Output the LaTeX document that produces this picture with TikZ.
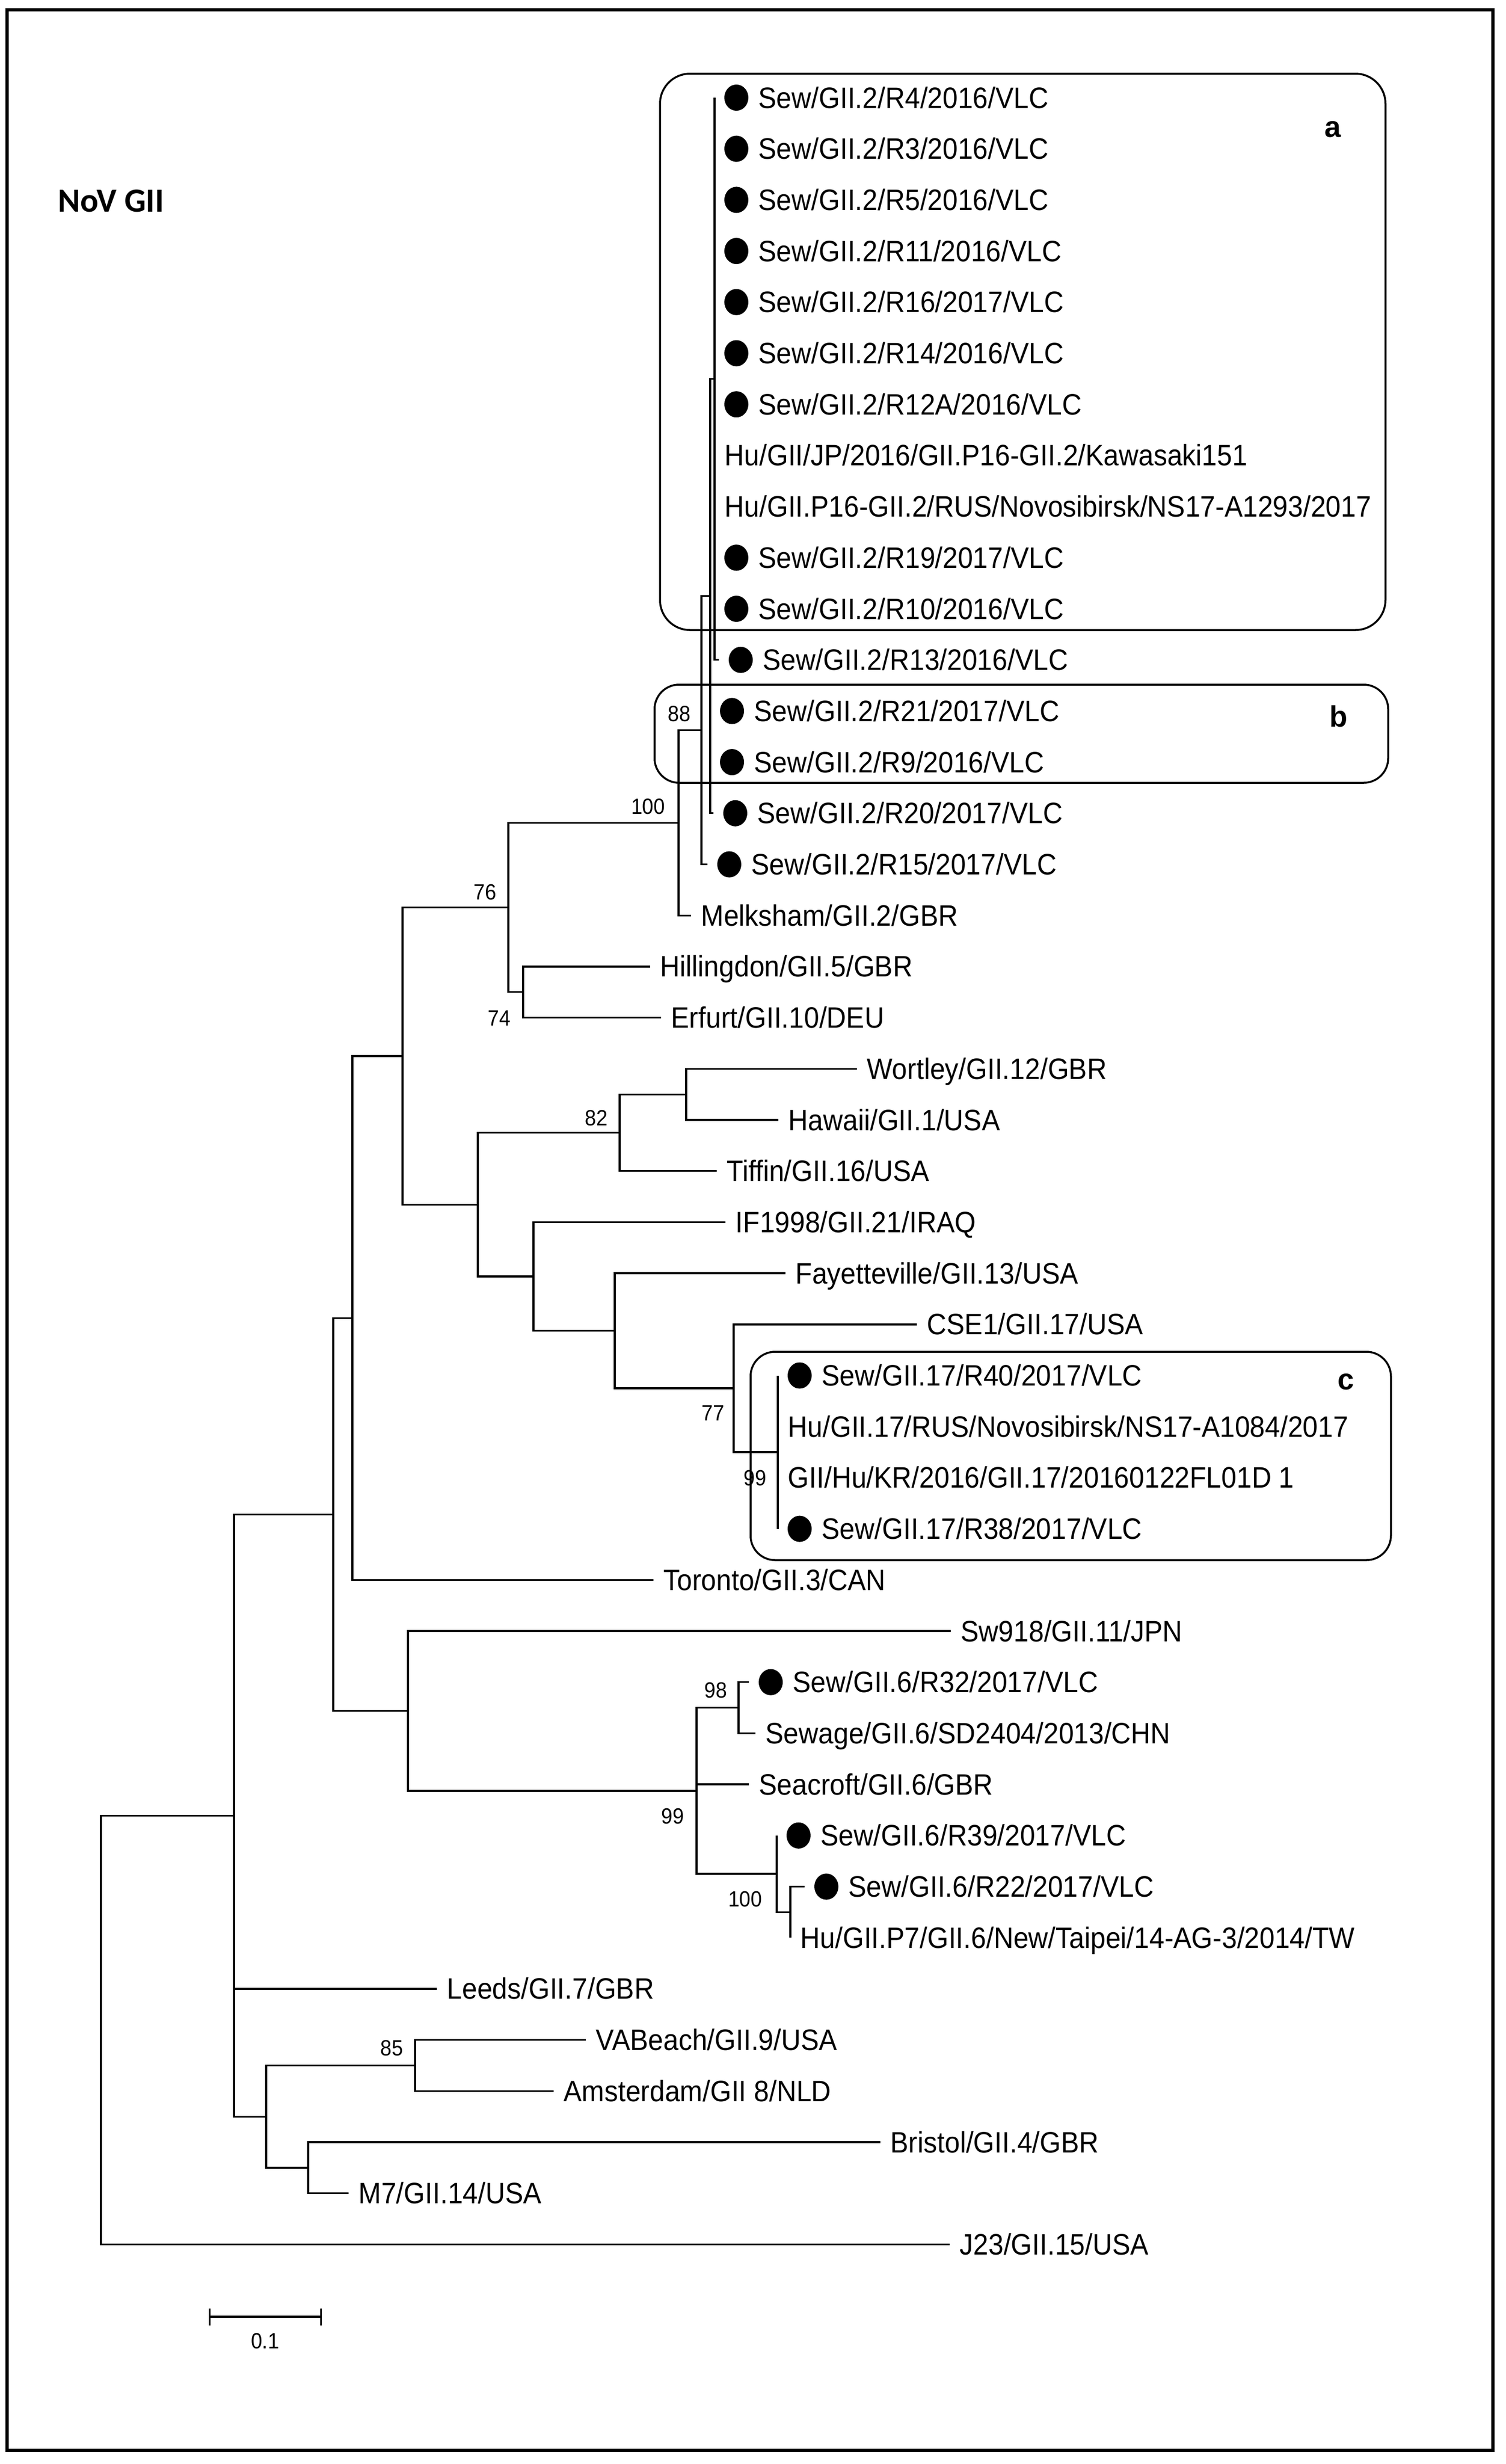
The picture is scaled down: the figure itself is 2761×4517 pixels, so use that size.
\documentclass[tikz,border=0pt]{standalone}
\usepackage{fontspec}
\setmainfont{Liberation Sans}[FakeStretch=0.92]
\newfontfamily\titlefont{Carlito}
\newfontfamily\cladefont{Liberation Sans}
\usetikzlibrary{positioning,calc,shapes.geometric,arrows.meta}

\tikzset{
  branch/.style={line width=0.95pt},
  leaf/.style={anchor=base west, inner sep=0pt, font=\fontsize{15.4}{18}\selectfont},
  boot/.style={inner sep=0pt, font=\fontsize{11.5}{13}\selectfont},
  sewdot/.style={ellipse, fill=black, inner sep=0pt, minimum width=0.44cm, minimum height=0.48cm},
  clade/.style={line width=1pt, rounded corners=#1},
  clade/.default=0.5cm,
  cladetag/.style={anchor=base west, inner sep=0pt, font=\cladefont\bfseries\fontsize{15.4}{18}\selectfont},
}

\begin{document}
\begin{tikzpicture}[x=0.01cm, y=-0.01cm]
 \path[fill=white] (0,0) rectangle (2761,4517);
 \draw[line width=1.7pt] (13,18) rectangle (2737,4492);
 \node[anchor=base west, inner sep=0pt, font=\titlefont\bfseries\fontsize{17.6}{20}\selectfont] (title) at (106,388) {NoV GII};
 %
 % leaves: row / end of branch / sewage dot / label
 \foreach \i/\x/\hasdot/\txt in {
   1/1310/1/{Sew/GII.2/R4/2016/VLC},
   2/1310/1/{Sew/GII.2/R3/2016/VLC},
   3/1310/1/{Sew/GII.2/R5/2016/VLC},
   4/1310/1/{Sew/GII.2/R11/2016/VLC},
   5/1310/1/{Sew/GII.2/R16/2017/VLC},
   6/1310/1/{Sew/GII.2/R14/2016/VLC},
   7/1310/1/{Sew/GII.2/R12A/2016/VLC},
   8/1310/0/{Hu/GII/JP/2016/GII.P16-GII.2/Kawasaki151},
   9/1310/0/{Hu/GII.P16-GII.2/RUS/Novosibirsk/NS17-A1293/2017},
   10/1310/1/{Sew/GII.2/R19/2017/VLC},
   11/1310/1/{Sew/GII.2/R10/2016/VLC},
   12/1318/1/{Sew/GII.2/R13/2016/VLC},
   13/1302/1/{Sew/GII.2/R21/2017/VLC},
   14/1302/1/{Sew/GII.2/R9/2016/VLC},
   15/1308/1/{Sew/GII.2/R20/2017/VLC},
   16/1297/1/{Sew/GII.2/R15/2017/VLC},
   17/1267/0/{Melksham/GII.2/GBR},
   18/1192/0/{Hillingdon/GII.5/GBR},
   19/1212/0/{Erfurt/GII.10/DEU},
   20/1571/0/{Wortley/GII.12/GBR},
   21/1427/0/{Hawaii/GII.1/USA},
   22/1314/0/{Tiffin/GII.16/USA},
   23/1330/0/{IF1998/GII.21/IRAQ},
   24/1440/0/{Fayetteville/GII.13/USA},
   25/1681/0/{CSE1/GII.17/USA},
   26/1426/1/{Sew/GII.17/R40/2017/VLC},
   27/1426/0/{Hu/GII.17/RUS/Novosibirsk/NS17-A1084/2017},
   28/1426/0/{GII/Hu/KR/2016/GII.17/20160122FL01D 1},
   29/1426/1/{Sew/GII.17/R38/2017/VLC},
   30/1198/0/{Toronto/GII.3/CAN},
   31/1743/0/{Sw918/GII.11/JPN},
   32/1373/1/{Sew/GII.6/R32/2017/VLC},
   33/1385/0/{Sewage/GII.6/SD2404/2013/CHN},
   34/1373/0/{Seacroft/GII.6/GBR},
   35/1424/1/{Sew/GII.6/R39/2017/VLC},
   36/1475/1/{Sew/GII.6/R22/2017/VLC},
   37/1449/0/{Hu/GII.P7/GII.6/New/Taipei/14-AG-3/2014/TW},
   38/801/0/{Leeds/GII.7/GBR},
   39/1074/0/{VABeach/GII.9/USA},
   40/1015/0/{Amsterdam/GII 8/NLD},
   41/1614/0/{Bristol/GII.4/GBR},
   42/639/0/{M7/GII.14/USA},
   43/1741/0/{J23/GII.15/USA}}{
   \pgfmathsetmacro\y{179+(\i-1)*93.7}
   \coordinate (e\i) at (\x,\y);
   \ifnum\hasdot=1
     \node[sewdot] (d\i) at ($(e\i)+(40,0)$) {};
     \node[leaf] (t\i) at ($(e\i)+(80,19)$) {\txt};
   \else
     \node[leaf] (t\i) at ($(e\i)+(18,19)$) {\txt};
   \fi
 }
 %
 % internal nodes
 \coordinate (nY) at (1310,694.4);
 \coordinate (nX) at (1302,1092.6);
 \coordinate (n88) at (1286,1338.6);
 \coordinate (n100) at (1244,1508.4);
 \coordinate (n74) at (959,1818.8);
 \coordinate (n76) at (932,1663.6);
 \coordinate (nW) at (1258,2006.2);
 \coordinate (n82) at (1136,2076.5);
 \coordinate (n99c) at (1426,2662.1);
 \coordinate (n77) at (1345,2545);
 \coordinate (nJ) at (1127,2439.6);
 \coordinate (nI) at (978,2340);
 \coordinate (nG) at (876,2208.3);
 \coordinate (nF) at (738,1936);
 \coordinate (nD) at (646,2416.2);
 \coordinate (n98) at (1354,3130.6);
 \coordinate (nZ) at (1449,3505.4);
 \coordinate (n100b) at (1424,3435.1);
 \coordinate (n99b) at (1277,3282.9);
 \coordinate (nE) at (748,3136.5);
 \coordinate (nC) at (611,2776.4);
 \coordinate (n85) at (761,3786.5);
 \coordinate (nBM) at (565,3973.9);
 \coordinate (nVM) at (488,3880.2);
 \coordinate (nB) at (429,3328.3);
 \coordinate (root) at (185,3721.4);
 %
 \foreach \k in {1,...,12} \draw[branch] (nY) |- (e\k);
 \foreach \k in {13,14,15} \draw[branch] (nX) |- (e\k);
 \draw[branch] (nX) |- (nY);
 \draw[branch] (n88) |- (nX) (n88) |- (e16);
 \draw[branch] (n100) |- (n88) (n100) |- (e17);
 \draw[branch] (n74) |- (e18) (n74) |- (e19);
 \draw[branch] (n76) |- (n100) (n76) |- (n74);
 \draw[branch] (nW) |- (e20) (nW) |- (e21);
 \draw[branch] (n82) |- (nW) (n82) |- (e22);
 \foreach \k in {26,...,29} \draw[branch] (n99c) |- (e\k);
 \draw[branch] (n77) |- (e25) (n77) |- (n99c);
 \draw[branch] (nJ) |- (e24) (nJ) |- (n77);
 \draw[branch] (nI) |- (e23) (nI) |- (nJ);
 \draw[branch] (nG) |- (n82) (nG) |- (nI);
 \draw[branch] (nF) |- (n76) (nF) |- (nG);
 \draw[branch] (nD) |- (nF) (nD) |- (e30);
 \draw[branch] (n98) |- (e32) (n98) |- (e33);
 \draw[branch] (nZ) |- (e36) (nZ) |- (e37);
 \draw[branch] (n100b) |- (e35) (n100b) |- (nZ);
 \draw[branch] (n99b) |- (n98) (n99b) |- (e34) (n99b) |- (n100b);
 \draw[branch] (nE) |- (e31) (nE) |- (n99b);
 \draw[branch] (nC) |- (nD) (nC) |- (nE);
 \draw[branch] (n85) |- (e39) (n85) |- (e40);
 \draw[branch] (nBM) |- (e41) (nBM) |- (e42);
 \draw[branch] (nVM) |- (n85) (nVM) |- (nBM);
 \draw[branch] (nB) |- (nC) (nB) |- (e38) (nB) |- (nVM);
 \draw[branch] (root) |- (nB) (root) |- (e43);
 %
 % bootstrap values
 \node[boot, above left=0.15cm and 0.19cm of n88] (b88) {88};
 \node[boot, above left=0.15cm and 0.24cm of n100] (b100) {100};
 \node[boot, above left=0.13cm and 0.21cm of n76] (b76) {76};
 \node[boot, below left=0.33cm and 0.22cm of n74] (b74) {74};
 \node[boot, above left=0.12cm and 0.21cm of n82] (b82) {82};
 \node[boot, below left=0.31cm and 0.16cm of n77] (b77) {77};
 \node[boot, below left=0.32cm and 0.20cm of n99c] (b99c) {99};
 \node[boot, above left=0.17cm and 0.20cm of n98] (b98) {98};
 \node[boot, below left=0.32cm and 0.22cm of n99b] (b99b) {99};
 \node[boot, below left=0.31cm and 0.26cm of n100b] (b100b) {100};
 \node[boot, above left=0.17cm and 0.21cm of n85] (b85) {85};
 %
 % clades
 \draw[clade=0.55cm] (1210,135) rectangle (2540,1155);
 \draw[clade=0.45cm] (1200,1255) rectangle (2545,1435);
 \draw[clade=0.45cm] (1376,2478) rectangle (2550,2860);
 \node[cladetag] (tagA) at (2428,251) {a};
 \node[cladetag] (tagB) at (2437,1332) {b};
 \node[cladetag] (tagC) at (2452,2547) {c};
 %
 % scale bar
 \coordinate (sb1) at (383,4247);
 \coordinate (sb2) at (590,4247);
 \draw[branch, {Bar[width=8.8pt]}-{Bar[width=8.8pt]}] (sb1) -- (sb2);
 \node[boot, anchor=base] (sbl) at (486,4305) {0.1};
\end{tikzpicture}
\end{document}
